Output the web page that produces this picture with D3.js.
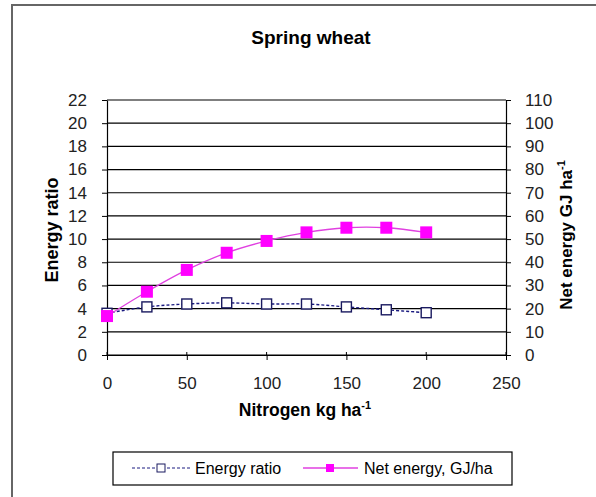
<!DOCTYPE html>
<html>
<head>
<meta charset="utf-8">
<script src="https://cdn.jsdelivr.net/npm/d3@7"></script>
<style>
  body { margin: 0; background: #fff; }
  svg { font-family: "Liberation Sans", Arial, sans-serif; }
</style>
</head>
<body>
<div id="chart"></div>
<script>
var nitrogen = [0, 25, 50, 75, 100, 125, 150, 175, 200];
var energyRatio = [3.6, 4.15, 4.4, 4.5, 4.4, 4.4, 4.15, 3.9, 3.65];
var netEnergy = [16.8, 27.3, 36.7, 44.1, 49.2, 52.9, 54.9, 54.9, 52.9];
var leftTicks = [0, 2, 4, 6, 8, 10, 12, 14, 16, 18, 20, 22];
var rightTicks = [0, 10, 20, 30, 40, 50, 60, 70, 80, 90, 100, 110];
var xTicks = [0, 50, 100, 150, 200, 250];

var W = 596, H = 497;
var plot = {left: 107, right: 506, top: 100, bottom: 355};

var svg = d3.select('#chart').append('svg')
    .attr('width', W)
    .attr('height', H);

// chart frame (only left/top edges fall inside the picture)
svg.append('rect')
    .attr('x', 12).attr('y', 5)
    .attr('width', 600).attr('height', 500)
    .attr('fill', 'none')
    .attr('stroke', '#666')
    .attr('stroke-width', 2);

var x = d3.scaleLinear().domain([0, 250]).range([plot.left, plot.right]);
var yL = d3.scaleLinear().domain([0, 22]).range([plot.bottom, plot.top]);
var yR = d3.scaleLinear().domain([0, 110]).range([plot.bottom, plot.top]);

// gridlines
svg.append('g').selectAll('line')
    .data(leftTicks)
    .enter().append('line')
    .attr('x1', plot.left).attr('x2', plot.right)
    .attr('y1', d => yL(d)).attr('y2', d => yL(d))
    .attr('stroke', '#000')
    .attr('stroke-width', 1.2);

function styleAxis(g){
    g.select('.domain').attr('stroke', '#000').attr('stroke-width', 1.2);
    g.selectAll('.tick line').attr('stroke', '#000');
    g.selectAll('.tick text')
        .attr('font-family', '"Liberation Sans Narrow", "Arial Narrow", "Liberation Sans", sans-serif')
        .attr('font-size', '17px')
        .attr('fill', '#222');
}

svg.append('g')
    .attr('transform', 'translate(' + plot.left + ',0)')
    .call(d3.axisLeft(yL).tickValues(leftTicks).tickSizeInner(5).tickSizeOuter(0).tickPadding(15))
    .call(styleAxis);

svg.append('g')
    .attr('transform', 'translate(' + plot.right + ',0)')
    .call(d3.axisRight(yR).tickValues(rightTicks).tickSizeInner(5).tickSizeOuter(0).tickPadding(14))
    .call(styleAxis);

svg.append('g')
    .attr('transform', 'translate(0,' + plot.bottom + ')')
    .call(d3.axisBottom(x).tickValues(xTicks).tickSizeInner(5).tickSizeOuter(0).tickPadding(17))
    .call(styleAxis);

// small tick stubs crossing into plot
svg.append('g').selectAll('line')
    .data(xTicks)
    .enter().append('line')
    .attr('x1', d => x(d)).attr('x2', d => x(d))
    .attr('y1', plot.bottom - 3).attr('y2', plot.bottom)
    .attr('stroke', '#000');

// series
var ratioLine = d3.line()
    .curve(d3.curveCatmullRom.alpha(0.5))
    .x((d, i) => x(nitrogen[i]))
    .y(d => yL(d));

var netLine = d3.line()
    .curve(d3.curveCatmullRom.alpha(0.5))
    .x((d, i) => x(nitrogen[i]))
    .y(d => yR(d));

svg.append('path')
    .datum(energyRatio)
    .attr('d', ratioLine)
    .attr('fill', 'none')
    .attr('stroke', '#1a1a80')
    .attr('stroke-width', 1.4)
    .attr('stroke-dasharray', '3,2');

svg.append('g').selectAll('rect')
    .data(energyRatio)
    .enter().append('rect')
    .attr('x', (d, i) => x(nitrogen[i]) - 5)
    .attr('y', d => yL(d) - 5)
    .attr('width', 10).attr('height', 10)
    .attr('fill', '#fff')
    .attr('stroke', '#1a1a60')
    .attr('stroke-width', 1.4);

svg.append('path')
    .datum(netEnergy)
    .attr('d', netLine)
    .attr('fill', 'none')
    .attr('stroke', '#e040e0')
    .attr('stroke-width', 1.3);

svg.append('g').selectAll('rect')
    .data(netEnergy)
    .enter().append('rect')
    .attr('x', (d, i) => x(nitrogen[i]) - 6)
    .attr('y', d => yR(d) - 6)
    .attr('width', 12).attr('height', 12)
    .attr('fill', '#ff00ff');

// title and axis labels
svg.append('text')
    .attr('x', 311).attr('y', 44)
    .attr('text-anchor', 'middle')
    .attr('font-size', '19px')
    .attr('font-weight', 'bold')
    .text('Spring wheat');

svg.append('text')
    .attr('transform', 'translate(58,230) rotate(-90)')
    .attr('text-anchor', 'middle')
    .attr('font-size', '18px')
    .attr('font-weight', 'bold')
    .text('Energy ratio');

var rl = svg.append('text')
    .attr('transform', 'translate(572,235) rotate(-90)')
    .attr('text-anchor', 'middle')
    .attr('font-size', '17px')
    .attr('font-weight', 'bold');
rl.append('tspan').text('Net energy GJ ha');
rl.append('tspan').attr('font-size', '11px').attr('dy', -7).text('-1');

var xl = svg.append('text')
    .attr('x', 305).attr('y', 416)
    .attr('text-anchor', 'middle')
    .attr('font-size', '17.5px')
    .attr('font-weight', 'bold');
xl.append('tspan').text('Nitrogen kg ha');
xl.append('tspan').attr('font-size', '11px').attr('dy', -7).text('-1');

// legend
var lg = svg.append('g');
lg.append('rect')
    .attr('x', 113).attr('y', 452)
    .attr('width', 399).attr('height', 33)
    .attr('fill', '#fff')
    .attr('stroke', '#000')
    .attr('stroke-width', 1.2);

lg.append('line')
    .attr('x1', 132).attr('x2', 190)
    .attr('y1', 468).attr('y2', 468)
    .attr('stroke', '#1a1a80')
    .attr('stroke-dasharray', '3,2');
lg.append('rect')
    .attr('x', 157).attr('y', 464)
    .attr('width', 8).attr('height', 8)
    .attr('fill', '#fff')
    .attr('stroke', '#1a1a60');
lg.append('text')
    .attr('x', 195).attr('y', 474)
    .attr('font-size', '16px')
    .text('Energy ratio');

lg.append('line')
    .attr('x1', 303).attr('x2', 358)
    .attr('y1', 468).attr('y2', 468)
    .attr('stroke', '#e040e0')
    .attr('stroke-width', 1.3);
lg.append('rect')
    .attr('x', 326).attr('y', 464)
    .attr('width', 8).attr('height', 8)
    .attr('fill', '#ff00ff');
lg.append('text')
    .attr('x', 364).attr('y', 474)
    .attr('font-size', '16px')
    .text('Net energy, GJ/ha');
</script>
</body>
</html>
